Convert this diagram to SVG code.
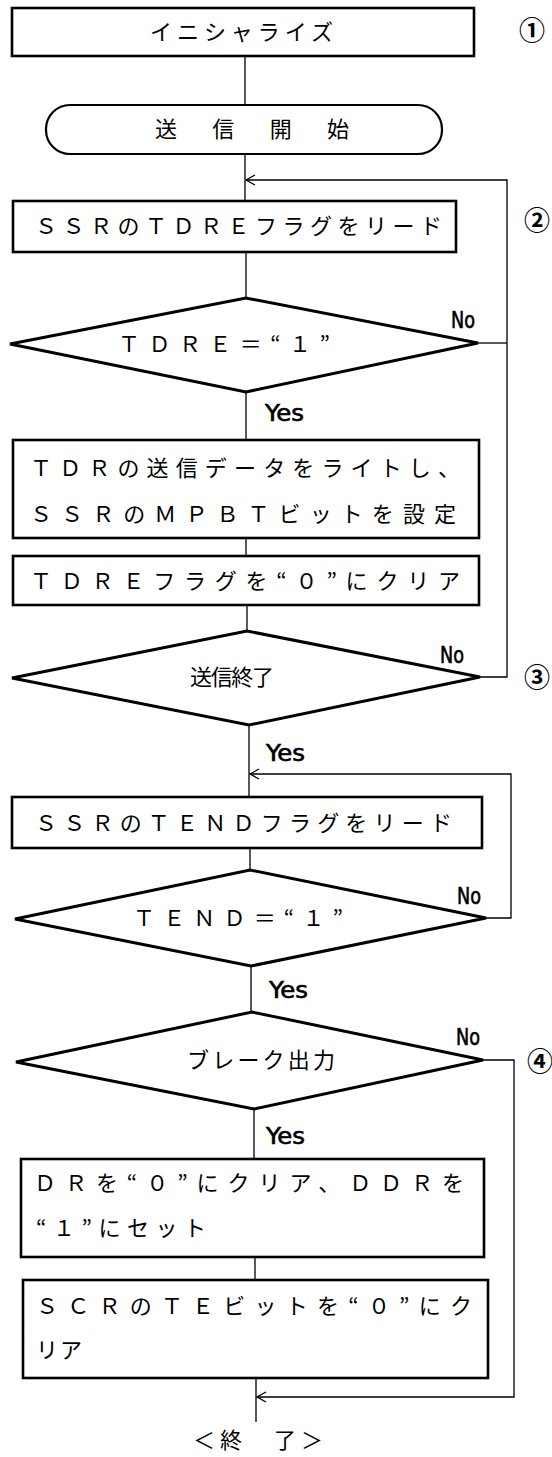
<svg xmlns="http://www.w3.org/2000/svg" width="552" height="1457" viewBox="0 0 552 1457">
<style>
.box{fill:#fff;stroke:#000;stroke-width:2.6}
.dia{fill:#fff;stroke:#000;stroke-width:3}
.term{fill:#fff;stroke:#000;stroke-width:2.2}
.ln{fill:none;stroke:#000;stroke-width:1.3}
.t{font-family:"Noto Sans CJK JP","Noto Sans CJK SC",sans-serif;font-size:22px;fill:#000}
.yn{font-family:"Liberation Sans Narrow","DejaVu Sans Condensed","Liberation Sans",sans-serif;font-size:23px;fill:#000;stroke:#000;stroke-width:0.6}
.num{font-family:"Noto Sans CJK JP",sans-serif;font-size:26px;font-weight:bold;fill:#000;text-anchor:middle}
</style>
<defs>
<marker id="arr" markerUnits="userSpaceOnUse" markerWidth="14" markerHeight="14" viewBox="-12 -7 14 14" refX="0" refY="0" orient="auto">
<path d="M-9,-5 L0,0 L-9,5" fill="none" stroke="#000" stroke-width="1.3"/>
</marker>
</defs>
<g id="connectors">
<line class="ln" x1="245" y1="56" x2="245" y2="105"/>
<line class="ln" x1="245" y1="154" x2="245" y2="201"/>
<line class="ln" x1="246" y1="252" x2="246" y2="298"/>
<line class="ln" x1="246" y1="392" x2="246" y2="440"/>
<line class="ln" x1="246" y1="538" x2="246" y2="556"/>
<line class="ln" x1="247" y1="605" x2="247" y2="631"/>
<line class="ln" x1="249" y1="725" x2="249" y2="797"/>
<line class="ln" x1="250" y1="848" x2="250" y2="870"/>
<line class="ln" x1="251" y1="966" x2="251" y2="1012"/>
<line class="ln" x1="254" y1="1109" x2="254" y2="1159"/>
<line class="ln" x1="255" y1="1257" x2="255" y2="1280"/>
<line class="ln" x1="256" y1="1378" x2="256" y2="1422"/>
<path class="ln" d="M478,343 H507"/>
<path class="ln" d="M480,677 H507 V180 H246" marker-end="url(#arr)"/>
<path class="ln" d="M486,918 H511 V774 H250" marker-end="url(#arr)"/>
<path class="ln" d="M483,1060 H514 V1397 H257" marker-end="url(#arr)"/>
</g>
<g id="n1">
<rect class="box" x="12" y="8" width="462" height="48"/>
<text class="t" x="150" y="40" textLength="183" lengthAdjust="spacing">イニシャライズ</text>
</g>
<text class="num" x="532" y="40">①</text>
<g id="n2">
<rect class="term" x="46" y="105" width="396" height="49" rx="24" ry="24"/>
<text class="t" x="155" y="137" textLength="194" lengthAdjust="spacing">送　信　開　始</text>
</g>
<g id="n3">
<rect class="box" x="13" y="201" width="443" height="51"/>
<text class="t" x="35" y="234" textLength="407" lengthAdjust="spacing">ＳＳＲのＴＤＲＥフラグをリード</text>
</g>
<text class="num" x="537" y="230">②</text>
<g id="n4">
<polygon class="dia" points="10,344 246,298 478,343 246,392"/>
<text class="t" x="118" y="352" textLength="212" lengthAdjust="spacing">ＴＤＲＥ＝“１”</text>
</g>
<text class="yn" x="451" y="328" textLength="24" lengthAdjust="spacingAndGlyphs">No</text>
<text class="yn" x="265" y="421" textLength="39" lengthAdjust="spacingAndGlyphs">Yes</text>
<g id="n5">
<rect class="box" x="13" y="440" width="466" height="98"/>
<text class="t" x="30" y="476" textLength="430" lengthAdjust="spacing">ＴＤＲの送信データをライトし、</text>
<text class="t" x="30" y="522" textLength="426" lengthAdjust="spacing">ＳＳＲのＭＰＢＴビットを設定</text>
</g>
<g id="n6">
<rect class="box" x="13" y="556" width="466" height="49"/>
<text class="t" x="30" y="589" textLength="430" lengthAdjust="spacing">ＴＤＲＥフラグを“０”にクリア</text>
</g>
<g id="n7">
<polygon class="dia" points="12,678 247,631 480,677 249,725"/>
<text class="t" x="190" y="685" textLength="84" lengthAdjust="spacing">送信終了</text>
</g>
<text class="yn" x="440" y="663" textLength="24" lengthAdjust="spacingAndGlyphs">No</text>
<text class="num" x="537" y="687">③</text>
<text class="yn" x="266" y="761" textLength="39" lengthAdjust="spacingAndGlyphs">Yes</text>
<g id="n8">
<rect class="box" x="12" y="797" width="470" height="51"/>
<text class="t" x="35" y="831" textLength="417" lengthAdjust="spacing">ＳＳＲのＴＥＮＤフラグをリード</text>
</g>
<g id="n9">
<polygon class="dia" points="15,919 250,870 486,918 251,966"/>
<text class="t" x="133" y="926" textLength="210" lengthAdjust="spacing">ＴＥＮＤ＝“１”</text>
</g>
<text class="yn" x="457" y="904" textLength="24" lengthAdjust="spacingAndGlyphs">No</text>
<text class="yn" x="269" y="998" textLength="39" lengthAdjust="spacingAndGlyphs">Yes</text>
<g id="n10">
<polygon class="dia" points="16,1062 252,1012 483,1060 254,1109"/>
<text class="t" x="187" y="1068" textLength="148" lengthAdjust="spacing">ブレーク出力</text>
</g>
<text class="yn" x="456" y="1045" textLength="24" lengthAdjust="spacingAndGlyphs">No</text>
<text class="num" x="540" y="1071">④</text>
<text class="yn" x="266" y="1144" textLength="39" lengthAdjust="spacingAndGlyphs">Yes</text>
<g id="n11">
<rect class="box" x="21" y="1159" width="463" height="98"/>
<text class="t" x="34" y="1191" textLength="430" lengthAdjust="spacing">ＤＲを“０”にクリア、ＤＤＲを</text>
<text class="t" x="36" y="1236" textLength="170" lengthAdjust="spacing">“１”にセット</text>
</g>
<g id="n12">
<rect class="box" x="23" y="1280" width="465" height="98"/>
<text class="t" x="36" y="1314" textLength="436" lengthAdjust="spacing">ＳＣＲのＴＥビットを“０”にク</text>
<text class="t" x="36" y="1358" textLength="46" lengthAdjust="spacing">リア</text>
</g>
<g id="n13">
<text class="t" x="193" y="1448" textLength="130" lengthAdjust="spacing">＜終　了＞</text>
</g>
</svg>
